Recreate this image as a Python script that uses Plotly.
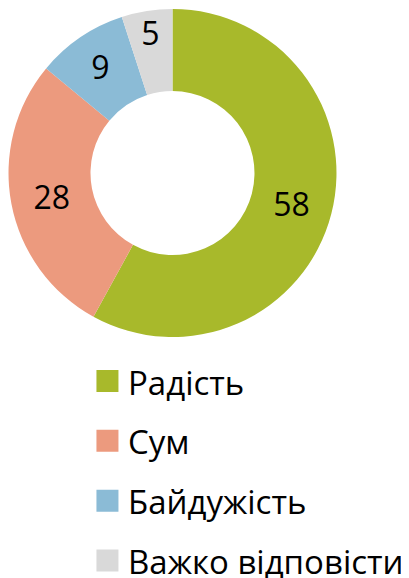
import plotly.graph_objects as go

# дані
labels = ['Радість', 'Сум', 'Байдужість', 'Важко відповісти']
values = [58, 28, 9, 5]
colors = ['#A8B92B', '#EC9A7E', '#8BBBD6', '#D9D9D9']

FONT = 'Open Sans, Noto Sans, sans-serif'

fig = go.Figure()

# кільцева діаграма
fig.add_trace(go.Pie(
    labels=labels,
    values=values,
    hole=0.5,
    sort=False,
    direction='clockwise',
    rotation=0,
    textinfo='value',
    textposition='inside',
    insidetextorientation='horizontal',
    textfont=dict(size=32, color='black', family=FONT),
    marker=dict(colors=colors, line=dict(width=0)),
    domain=dict(x=[0, 0.8204], y=[0.4228, 0.9982]),
    showlegend=False,
))

# легенда: квадратні маркери по категоріях
fig.add_trace(go.Scatter(
    x=[0] * len(labels),
    y=labels,
    mode='markers',
    marker=dict(symbol='square', size=22, color=colors),
    showlegend=False,
    hoverinfo='skip',
))

# підписи легенди
for lab in labels:
    fig.add_annotation(
        x=0, y=lab, xref='x', yref='y',
        text=lab, showarrow=False,
        xanchor='left', yanchor='middle',
        xshift=19, yshift=-1,
        font=dict(size=33, color='black', family=FONT),
    )

# сторінка має відступ 8px, тому фігура трохи менша
fig.update_layout(
    width=401,
    height=570,
    margin=dict(l=0, r=0, t=0, b=0),
    paper_bgcolor='white',
    plot_bgcolor='white',
    showlegend=False,
    uniformtext=dict(minsize=32, mode='show'),
    xaxis=dict(domain=[0, 1], range=[-0.248, 0.752], visible=False, fixedrange=True),
    yaxis=dict(domain=[0.0014, 0.398], range=[3.28, -0.5], visible=False, fixedrange=True,
               type='category'),
)

fig.write_html("out.html")
